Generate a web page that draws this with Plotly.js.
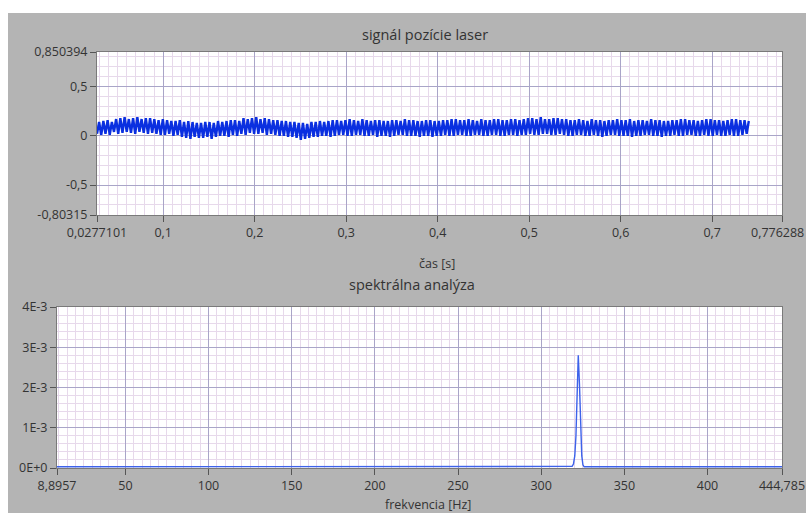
<!DOCTYPE html>
<html>
<head>
<meta charset="utf-8">
<script src="https://cdn.plot.ly/plotly-3.0.1.min.js"></script>
<style>html,body{margin:0;padding:0;background:#fff;}#chart{width:806px;height:513px;}</style>
</head>
<body>
<div id="chart"></div>
<script>
// ---- time signal (waveform: start time, sample step, values) ----
const signalT0 = 0.0277101;
const signalDt = 0.0023202;
const signalValues = [
0.02,0.14,0.01,0.15, 0.02,0.16,0.01,0.14, 0.04,0.17,0.02,0.18, 0.03,0.19,0.04,0.17,
0.03,0.18,0.02,0.19, 0.04,0.17,0.03,0.18, 0.02,0.18,0.03,0.17, 0.02,0.16,0.01,0.17,
0.01,0.16,0.02,0.15, 0.00,0.15,0.01,0.16, -0.01,0.14,-0.02,0.15, -0.03,0.14,-0.01,0.13,
-0.02,0.13,-0.02,0.14, -0.01,0.14,-0.03,0.13, -0.01,0.15,0.00,0.14, 0.00,0.15,-0.01,0.16,
0.01,0.16,0.00,0.15, 0.02,0.18,0.01,0.17, 0.03,0.18,0.02,0.19, 0.02,0.17,0.03,0.18,
0.01,0.17,0.02,0.16, 0.01,0.16,0.00,0.15, 0.00,0.15,-0.01,0.14, -0.01,0.14,-0.02,0.13,
-0.04,0.13,-0.03,0.12, -0.02,0.14,-0.01,0.14, -0.01,0.15,0.00,0.14, 0.00,0.15,-0.01,0.16,
0.00,0.16,0.01,0.15, 0.01,0.16,0.00,0.17, 0.00,0.16,0.01,0.15, 0.01,0.17,0.00,0.16,
0.00,0.15,0.01,0.16, -0.01,0.16,0.00,0.15, 0.00,0.15,-0.01,0.16, 0.00,0.16,0.01,0.15,
0.01,0.17,0.00,0.16, 0.00,0.16,0.00,0.15, -0.01,0.15,0.00,0.16, 0.00,0.16,-0.01,0.15,
0.00,0.15,0.00,0.16, 0.01,0.16,0.00,0.17, 0.00,0.17,0.01,0.16, 0.01,0.16,0.00,0.17,
0.00,0.16,0.01,0.15, 0.01,0.17,0.00,0.16, 0.00,0.16,0.01,0.17, 0.01,0.17,0.00,0.16,
0.00,0.16,0.01,0.17, 0.01,0.17,0.00,0.16, 0.01,0.17,0.01,0.18, 0.02,0.18,0.01,0.17,
0.01,0.19,0.02,0.17, 0.02,0.17,0.01,0.18, 0.01,0.18,0.02,0.17, 0.01,0.17,0.00,0.16,
0.00,0.16,0.01,0.17, 0.01,0.16,0.00,0.15, 0.00,0.17,0.01,0.16, 0.00,0.16,-0.01,0.15,
0.00,0.16,0.01,0.16, 0.01,0.17,0.00,0.16, 0.00,0.16,0.00,0.17, -0.01,0.15,0.00,0.16,
0.00,0.16,0.01,0.15, 0.01,0.17,0.00,0.16, 0.00,0.16,-0.01,0.15, 0.00,0.15,0.00,0.16,
0.01,0.16,0.00,0.17, 0.00,0.17,0.01,0.16, 0.01,0.16,0.00,0.15, 0.00,0.16,0.01,0.17,
0.00,0.17,0.00,0.16, 0.01,0.16,0.00,0.15, 0.00,0.16,0.01,0.17, 0.00,0.17,0.00,0.16,
0.01,0.16,0.02,0.15
];

// ---- spectrum ----
const spectrumFreq = [8.8957, 60, 120, 180, 240, 300, 316, 318.6, 319.4, 320.2, 320.9, 321.6, 322.3, 323.0, 323.7, 324.4, 325.1, 325.8, 330, 380, 444.785];
const spectrumAmp  = [0.00003, 0.00003, 0.00003, 0.00003, 0.00003, 0.00003, 0.00003, 0.00004, 0.0001, 0.0003, 0.0008, 0.0021, 0.0028, 0.0021, 0.0008, 0.0003, 0.00008, 0.00003, 0.00003, 0.00003, 0.00003];

// ---- axis ticks ----
const timeTickVals  = [0.0277101, 0.1, 0.2, 0.3, 0.4, 0.5, 0.6, 0.7, 0.776288];
const timeTickText  = ["0,0277101", "0,1", "0,2", "0,3", "0,4", "0,5", "0,6", "0,7", ""];
const timeEndLabel  = "0,776288";
const sigTickVals   = [-0.80315, -0.5, 0, 0.5, 0.850394];
const sigTickText   = ["-0,80315", "-0,5", "0", "0,5", "0,850394"];
const freqTickVals  = [8.8957, 50, 100, 150, 200, 250, 300, 350, 400, 444.785];
const freqTickText  = ["8,8957", "50", "100", "150", "200", "250", "300", "350", "400", "444,785"];
const ampTickVals   = [0, 0.001, 0.002, 0.003, 0.004];
const ampTickText   = ["0E+0", "1E-3", "2E-3", "3E-3", "4E-3"];

const W = 806, H = 513;
const px = v => v / W;
const py = v => 1 - v / H;

const FONT = "Open Sans, DejaVu Sans, sans-serif";
const tickFont = {family: FONT, size: 12.5, color: "#333333"};
const majorGrid = "#a9a5c8";
const minorGrid = "#e7d9eb";

function axis(common) {
  return Object.assign({
    tickmode: "array",
    ticks: "outside",
    ticklen: 6,
    tickwidth: 1,
    tickcolor: "#555",
    showline: true,
    linecolor: "#7a7a7a",
    linewidth: 1,
    mirror: true,
    showgrid: true,
    gridcolor: majorGrid,
    gridwidth: 1,
    zeroline: false,
    tickfont: tickFont,
    ticklabeloverflow: "allow",
    fixedrange: true,
    layer: "below traces"
  }, common);
}

const data = [
  {
    type: "scatter", mode: "lines",
    x0: signalT0, dx: signalDt, y: signalValues,
    xaxis: "x", yaxis: "y",
    line: {color: "#0a2fe0", width: 2.4},
    hoverinfo: "skip"
  },
  {
    type: "scatter", mode: "lines",
    x: spectrumFreq, y: spectrumAmp,
    xaxis: "x2", yaxis: "y2",
    line: {color: "#3d62ea", width: 1.4},
    hoverinfo: "skip"
  }
];

const layout = {
  width: W, height: H,
  margin: {l: 0, r: 0, t: 0, b: 0},
  paper_bgcolor: "#b4b4b4",
  plot_bgcolor: "#ffffff",
  showlegend: false,
  hovermode: false,
  xaxis: axis({
    domain: [px(97), px(782)], anchor: "y",
    range: [0.0277101, 0.776288],
    tickvals: timeTickVals, ticktext: timeTickText,
    minor: {tickmode: "linear", tick0: 0, dtick: 0.01, showgrid: true, gridcolor: minorGrid, gridwidth: 1}
  }),
  yaxis: axis({
    domain: [py(215), py(52)], anchor: "x",
    range: [-0.80315, 0.850394],
    tickvals: sigTickVals, ticktext: sigTickText,
    minor: {tickmode: "linear", tick0: 0, dtick: 0.1, showgrid: true, gridcolor: minorGrid, gridwidth: 1}
  }),
  xaxis2: axis({
    domain: [px(57), px(782)], anchor: "y2",
    range: [8.8957, 444.785],
    tickvals: freqTickVals, ticktext: freqTickText,
    minor: {tickmode: "linear", tick0: 0, dtick: 5, showgrid: true, gridcolor: minorGrid, gridwidth: 1}
  }),
  yaxis2: axis({
    domain: [py(468), py(307)], anchor: "x2",
    range: [0, 0.004],
    tickvals: ampTickVals, ticktext: ampTickText,
    minor: {tickmode: "linear", tick0: 0, dtick: 0.0002, showgrid: true, gridcolor: minorGrid, gridwidth: 1}
  }),
  shapes: [
    {type: "rect", xref: "paper", yref: "paper", x0: 0, x1: 1, y0: py(13), y1: 1,
     fillcolor: "#ffffff", line: {width: 0}, layer: "below"},
    {type: "rect", xref: "paper", yref: "paper", x0: 0, x1: px(8), y0: 0, y1: 1,
     fillcolor: "#ffffff", line: {width: 0}, layer: "below"}
  ],
  annotations: [
    {text: "signál pozície laser", xref: "paper", yref: "paper", x: px(425), y: py(34), xanchor: "center", yanchor: "middle", showarrow: false, font: {family: FONT, size: 14.5, color: "#333333"}},
    {text: timeEndLabel, xref: "paper", yref: "paper", x: px(805), y: py(232), xanchor: "right", yanchor: "middle", showarrow: false, borderpad: 0, font: tickFont},
    {text: "čas [s]", xref: "paper", yref: "paper", x: px(437), y: py(263), xanchor: "center", yanchor: "middle", showarrow: false, font: {family: FONT, size: 12.5, color: "#333333"}},
    {text: "spektrálna analýza", xref: "paper", yref: "paper", x: px(412), y: py(284), xanchor: "center", yanchor: "middle", showarrow: false, font: {family: FONT, size: 14.5, color: "#333333"}},
    {text: "frekvencia [Hz]", xref: "paper", yref: "paper", x: px(428), y: py(504), xanchor: "center", yanchor: "middle", showarrow: false, font: {family: FONT, size: 12.5, color: "#333333"}}
  ]
};

Plotly.newPlot("chart", data, layout, {displayModeBar: false, staticPlot: true});
</script>
</body>
</html>
